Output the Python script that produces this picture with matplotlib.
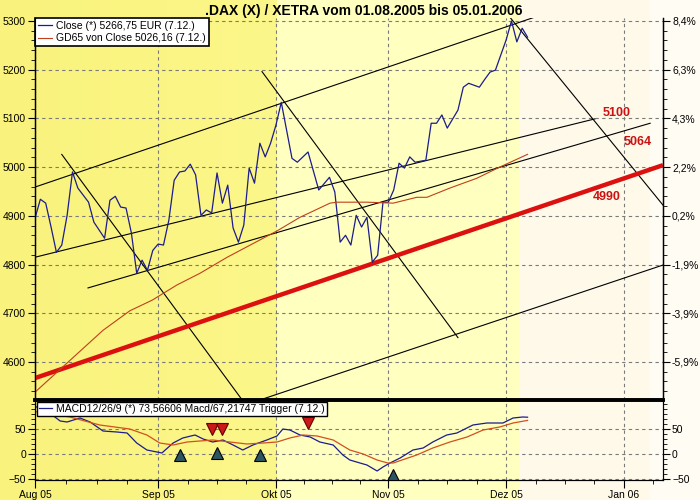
import matplotlib.pyplot as plt
import numpy as np
from matplotlib.ticker import MultipleLocator, FixedLocator

plt.rcParams['font.family'] = ['Liberation Sans', 'DejaVu Sans']

# x = trading day index, 0 = 01.08.2005
month_pos = [0, 23, 45, 66, 88, 110]
month_labels = ['Aug 05', 'Sep 05', 'Okt 05', 'Nov 05', 'Dez 05', 'Jan 06']

close_day = [0, 1, 2, 3, 4, 5, 6, 7, 8, 10, 11, 13, 14, 15, 16, 17, 18, 19, 20, 21,
             22, 23, 24, 25, 26, 27, 28, 29, 30, 31, 32, 33, 34, 35, 36, 37, 38, 39, 40, 41,
             42, 43, 44, 45, 46, 48, 49, 51, 53, 55, 56, 57, 58, 59, 60, 61, 62, 63, 64, 65,
             66, 67, 68, 69, 70, 71, 73, 74, 75, 76, 77, 79, 80, 81, 83, 84, 85, 86, 87, 88,
             89, 90, 91, 92]
close_val = [4895, 4934, 4926, 4877, 4825, 4840, 4901, 4990, 4957, 4928, 4887, 4854, 4932, 4940, 4918, 4916, 4865, 4782, 4809, 4788,
             4829, 4842, 4840, 4891, 4973, 4990, 4992, 5006, 4984, 4901, 4912, 4906, 4988, 4926, 4963, 4875, 4846, 4881, 4998, 4967,
             5049, 5021, 5049, 5086, 5133, 5018, 5010, 5031, 4953, 4979, 4949, 4846, 4860, 4840, 4901, 4877, 4897, 4805, 4819, 4928,
             4928, 4953, 5008, 4998, 5021, 5010, 5014, 5090, 5090, 5107, 5080, 5117, 5164, 5172, 5164, 5180, 5195, 5199, 5230, 5261,
             5300, 5257, 5285, 5266.75]

gd65_day = [0, 6, 12.7, 17.7, 21.9, 26.5, 30.8, 35.9, 40.2, 45.2, 49.5, 55.1, 56.4, 62, 66.9, 71.3, 73.2, 77.5, 82.5, 86.8, 92]
gd65_val = [4538, 4598, 4665, 4705, 4727, 4758, 4782, 4815, 4840, 4869, 4897, 4926, 4928, 4928, 4926, 4938, 4938, 4957, 4977, 5000, 5026.16]

macd_day = [0, 2, 4.7, 6, 8.4, 10.3, 12.7, 15.3, 17.2, 19, 20.9, 23.7, 25.8, 27.6, 29.9, 31.4, 33.2, 35.1, 37, 38.8,
            40.7, 43.3, 45.2, 46.3, 47.6, 49.5, 51.4, 53.2, 55.7, 57.5, 58.8, 60.7, 62, 63.9, 65, 66.3, 68.2, 70.6, 72.5, 74.3,
            76.9, 78.8, 81.8, 84.4, 87.4, 89.3, 91.1, 92]
macd_val = [95, 88, 66, 64, 72, 64, 46, 44, 42, 22, 8, 2, 22, 32, 38, 30, 24, 28, 18, 8,
            18, 28, 36, 50, 48, 38, 34, 24, 18, -2, -12, -18, -22, -34, -26, -18, -8, 8, 12, 24,
            38, 42, 58, 62, 62, 72, 74, 73.57]

trig_day = [0, 6.5, 12.1, 17.7, 20.9, 23.3, 25.8, 28.4, 30.8, 33.2, 36.4, 39.6, 42.6, 45.2, 47.6, 50.1, 52.7, 55.7, 58.8, 61.3,
            63.9, 65.9, 66.9, 71.3, 74.3, 77.5, 80.7, 83.7, 86.8, 89.3, 92]
trig_val = [85, 74, 58, 50, 38, 22, 18, 24, 26, 28, 24, 20, 22, 24, 32, 38, 36, 28, 8, 0,
            -12, -18, -18, -2, 12, 24, 34, 48, 54, 62, 67.22]

buy_day = [27.1, 34.0, 42.1, 66.9]
buy_val = [-2, 2, -2, -42]
sell_day = [33.1, 35.0, 51.0]
sell_val = [50, 50, 62]

# drawn trend lines: (day0, value0, day1, value1)
channel_lines = [(0, 4959, 93.4, 5308),
                 (0, 4815, 104.6, 5099),
                 (9.9, 4752, 114.9, 5090),
                 (42.0, 4522, 117.3, 4799)]
down_lines = [(5.0, 5026, 38.7, 4522),
              (42.4, 5196, 79.0, 4650),
              (88.3, 5313, 117.3, 4922)]
support_line = (0, 4567, 117.3, 5004)

level_labels = ['5100', '5064', '4990']
level_day = [108.7, 112.6, 106.8]
level_val = [5111, 5051, 4939]

price_ticks = [4600, 4700, 4800, 4900, 5000, 5100, 5200, 5300]
pct_labels = ['-5,9%', '-3,9%', '-1,9%', '0,2%', '2,2%', '4,3%', '6,3%', '8,4%']

title = '.DAX (X) / XETRA vom 01.08.2005 bis 05.01.2006'

fig = plt.figure(figsize=(7, 5), dpi=100)

# background bands over the whole figure
bg = fig.add_axes([0, 0, 1, 1], zorder=-5)
px = np.arange(700)
c_left0 = np.array([249, 242, 124]) / 255
c_left1 = np.array([252, 247, 138]) / 255
c_mid = np.array([255, 255, 192]) / 255
c_pale = np.array([255, 249, 234]) / 255
c_end = np.array([255, 252, 244]) / 255
grad = np.zeros((1, 700, 3))
for i in px:
    if i < 277:
        t = i / 277
        grad[0, i] = c_left0 * (1 - t) + c_left1 * t
    elif i < 520:
        grad[0, i] = c_mid
    elif i < 650:
        grad[0, i] = c_pale
    else:
        grad[0, i] = c_end
bg.imshow(grad, aspect='auto', extent=[0, 1, 0, 1])
bg.axis('off')

xmax = 117.3
grid_kw = dict(color='#7a7a7a', linestyle=(0, (3, 3)), linewidth=0.8)
fs = 7.5

# ---- price panel
ax = fig.add_axes([35 / 700, 0.2, 628 / 700, 0.764])
ax.set_facecolor('none')
ax.set_xlim(0, xmax)
ax.set_ylim(4522, 5306)

for d0, v0, d1, v1 in channel_lines + down_lines:
    ax.plot([d0, d1], [v0, v1], color='black', lw=0.8, zorder=2)
ax.plot([support_line[0], support_line[2]], [support_line[1], support_line[3]],
        color='#dd1010', lw=3.2, solid_capstyle='butt', zorder=3)
l1, = ax.plot(close_day, close_val, color='#1c1c8c', lw=0.9, zorder=4,
              label='Close (*) 5266,75 EUR (7.12.)')
l2, = ax.plot(gd65_day, gd65_val, color='#c0401c', lw=0.8, zorder=4,
              label='GD65 von Close 5026,16 (7.12.)')

for lab, d, v in zip(level_labels, level_day, level_val):
    ax.text(d, v, lab, color='#cc1111', fontsize=9, fontweight='bold',
            ha='center', va='center', zorder=5)

ax.set_xticks(month_pos)
ax.tick_params(axis='x', length=0, labelbottom=False)
ax.set_yticks(price_ticks)
ax.yaxis.set_minor_locator(MultipleLocator(20))
ax.tick_params(axis='y', which='major', length=5, labelsize=fs, pad=1.5, direction='out')
ax.tick_params(axis='y', which='minor', length=3, direction='out')
ax.grid(True, which='major', **grid_kw)
ax.spines['top'].set_visible(False)
ax.spines['bottom'].set_linewidth(2.6)
for s in ['left', 'right']:
    ax.spines[s].set_linewidth(1)

axr = ax.twinx()
axr.set_ylim(ax.get_ylim())
axr.set_yticks(price_ticks)
axr.set_yticklabels(pct_labels)
axr.yaxis.set_minor_locator(MultipleLocator(20))
axr.tick_params(axis='y', which='major', length=5, labelsize=fs, pad=1.5)
axr.tick_params(axis='y', which='minor', length=3)
axr.spines['top'].set_visible(False)
axr.spines['bottom'].set_visible(False)

leg = ax.legend(handles=[l1, l2], loc='upper left', bbox_to_anchor=(0, 1), borderaxespad=0,
                fancybox=False, edgecolor='black', framealpha=1, fontsize=fs,
                handlelength=1.3, borderpad=0.3, labelspacing=0.2, handletextpad=0.4)
leg.get_frame().set_linewidth(1.2)
leg.set_zorder(10)

# ---- MACD panel
am = fig.add_axes([35 / 700, 0.04, 628 / 700, 0.16])
am.set_facecolor('none')
am.set_xlim(0, xmax)
am.set_ylim(-52, 108)
m1, = am.plot(macd_day, macd_val, color='#1c1c8c', lw=0.9, zorder=3,
              label='MACD12/26/9 (*) 73,56606 Macd/67,21747 Trigger (7.12.)')
am.plot(trig_day, trig_val, color='#d2501e', lw=0.9, zorder=3)
am.plot(buy_day, buy_val, linestyle='none', marker='^', markersize=8,
        color='#2b5563', markeredgecolor='black', markeredgewidth=0.8, zorder=4)
am.plot(sell_day, sell_val, linestyle='none', marker='v', markersize=8,
        color='#cc1818', markeredgecolor='#600000', markeredgewidth=0.8, zorder=4)

minor_x = []
for a, b in zip(month_pos[:-1], month_pos[1:]):
    minor_x += [a + (b - a) * k / 4 for k in (1, 2, 3)]
minor_x.append(month_pos[-1] + 22 / 4)
am.set_xticks(month_pos)
am.set_xticklabels(month_labels)
am.xaxis.set_minor_locator(FixedLocator(minor_x))
am.tick_params(axis='x', which='major', length=6, labelsize=fs, pad=1)
am.tick_params(axis='x', which='minor', length=3)
am.set_yticks([-50, 0, 50])
am.yaxis.set_minor_locator(MultipleLocator(10))
am.tick_params(axis='y', which='major', length=5, labelsize=fs, pad=1.5)
am.tick_params(axis='y', which='minor', length=3)
am.grid(True, which='major', **grid_kw)
am.spines['top'].set_linewidth(2.6)

amr = am.twinx()
amr.set_ylim(am.get_ylim())
amr.set_yticks([-50, 0, 50])
amr.yaxis.set_minor_locator(MultipleLocator(10))
amr.tick_params(axis='y', which='major', length=5, labelsize=fs, pad=1.5)
amr.tick_params(axis='y', which='minor', length=3)
amr.spines['top'].set_visible(False)

leg2 = am.legend(handles=[m1], loc='upper left', bbox_to_anchor=(0, 1), borderaxespad=0.15,
                 fancybox=False, edgecolor='black', framealpha=1, fontsize=fs,
                 handlelength=1.3, borderpad=0.2, handletextpad=0.4)
leg2.get_frame().set_linewidth(1.0)
leg2.set_zorder(10)

fig.text(0.52, 0.978, title, ha='center', va='center', fontsize=10, fontweight='bold')

fig.savefig('out.png', dpi=100)
